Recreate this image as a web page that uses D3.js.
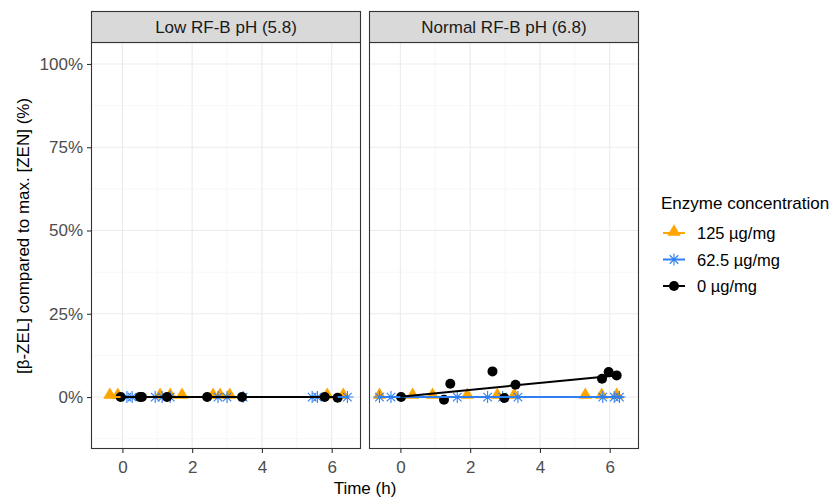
<!DOCTYPE html>
<html>
<head>
<meta charset="utf-8">
<script src="https://cdn.jsdelivr.net/npm/d3@7"></script>
<style>
  body { margin: 0; background: #fff; }
  svg text { font-family: "Liberation Sans", Arial, sans-serif; }
</style>
</head>
<body>
<svg id="chart" width="833" height="497"></svg>
<script>
// facets, groups, observations (time h, % of max ZEN)
var panels = ['Low RF-B pH (5.8)', 'Normal RF-B pH (6.8)'];
var groups = ['125 µg/mg', '62.5 µg/mg', '0 µg/mg'];
var colors = ['#FFA500', '#2F7FF2', '#000000'];
var yTicks = [0, 25, 50, 75, 100];
var xTicks = [0, 2, 4, 6];

// low pH
var lowT125 = [-0.36, -0.13, 1.08, 1.37, 1.71, 2.6, 2.8, 3.08, 5.87, 6.33];
var lowY125 = [0.3, 0.3, 0.3, 0.3, 0.3, 0.3, 0.3, 0.3, 0.3, 0.3];
var lowT625 = [0.13, 0.28, 0.94, 1.14, 1.37, 2.74, 3.0, 3.46, 5.44, 5.59, 6.45];
var lowY625 = [0, 0, 0, 0, 0, 0, 0, 0, 0, 0, 0];
var lowT0 = [-0.05, 0.5, 0.56, 1.28, 2.43, 3.43, 5.8, 6.17];
var lowY0 = [0, 0, 0, 0, 0, 0, 0, -0.2];
// normal pH
var normT125 = [-0.6, 0.35, 0.92, 1.92, 2.78, 3.26, 5.3, 5.77, 6.2];
var normY125 = [0.3, 0.3, 0.3, 0.3, 0.3, 0.3, 0.3, 0.3, 0.3];
var normT625 = [-0.6, -0.27, 1.63, 2.5, 2.93, 3.37, 5.8, 6.13, 6.28];
var normY625 = [0, 0, 0, 0, 0, 0, 0, 0, 0];
var normT0 = [0.02, 1.25, 1.43, 2.64, 2.98, 3.3, 5.78, 5.97, 6.2];
var normY0 = [0, -0.8, 4.0, 7.7, -0.3, 3.7, 5.5, 7.5, 6.5];

// fitted lines (start, end) per panel and group
var lowFitT = [[-0.36, 6.33], [0.13, 6.45], [-0.05, 6.17]];
var lowFitY = [[0, 0], [0, 0], [0, 0]];
var normFitT = [[-0.6, 6.2], [-0.6, 6.4], [0.0, 6.2]];
var normFitY = [[0, 0], [0, 0], [0.1, 6.5]];

var pts = [
  [[lowT125, lowY125], [lowT625, lowY625], [lowT0, lowY0]],
  [[normT125, normY125], [normT625, normY625], [normT0, normY0]]
];
var fits = [[lowFitT, lowFitY], [normFitT, normFitY]];

var svg = d3.select('#chart');
var P = { top: 42, bottom: 449, stripTop: 11, w: 270, lefts: [91, 369] };
var y = d3.scaleLinear().domain([-15.6, 106.6]).range([P.bottom, P.top]);
var FONT = '"Liberation Sans", Arial, sans-serif';

function shape(g, gi, cx, cy, col) {
  if (gi === 0) {
    g.append('path').attr('d', d3.symbol(d3.symbolTriangle, 76)())
      .attr('transform', 'translate(' + cx + ',' + (cy - 1) + ')').attr('fill', col);
  } else if (gi === 1) {
    var r = 6, d = r * 0.7071, p = '';
    p += 'M' + (cx - r) + ',' + cy + 'H' + (cx + r);
    p += 'M' + cx + ',' + (cy - r) + 'V' + (cy + r);
    p += 'M' + (cx - d) + ',' + (cy - d) + 'L' + (cx + d) + ',' + (cy + d);
    p += 'M' + (cx - d) + ',' + (cy + d) + 'L' + (cx + d) + ',' + (cy - d);
    g.append('path').attr('d', p).attr('stroke', col).attr('stroke-width', 1.1).attr('fill', 'none');
  } else {
    g.append('circle').attr('cx', cx).attr('cy', cy).attr('r', 5).attr('fill', col);
  }
}

panels.forEach(function (name, pi) {
  var x0 = P.lefts[pi];
  var x = d3.scaleLinear().domain([-0.9, 6.84]).range([x0, x0 + P.w]);
  var g = svg.append('g');
  g.append('rect').attr('x', x0).attr('y', P.top).attr('width', P.w).attr('height', P.bottom - P.top).attr('fill', '#fff');
  // minor grid
  [1, 3, 5].forEach(function (t) {
    g.append('line').attr('x1', x(t)).attr('x2', x(t)).attr('y1', P.top).attr('y2', P.bottom).attr('stroke', '#f2f2f2').attr('stroke-width', 0.6);
  });
  [-12.5, 12.5, 37.5, 62.5, 87.5].forEach(function (v) {
    g.append('line').attr('x1', x0).attr('x2', x0 + P.w).attr('y1', y(v)).attr('y2', y(v)).attr('stroke', '#f2f2f2').attr('stroke-width', 0.6);
  });
  xTicks.forEach(function (t) {
    g.append('line').attr('x1', x(t)).attr('x2', x(t)).attr('y1', P.top).attr('y2', P.bottom).attr('stroke', '#ebebeb').attr('stroke-width', 1.1);
  });
  yTicks.forEach(function (v) {
    g.append('line').attr('x1', x0).attr('x2', x0 + P.w).attr('y1', y(v)).attr('y2', y(v)).attr('stroke', '#ebebeb').attr('stroke-width', 1.1);
  });

  // points
  var pg = g.append('g');
  pts[pi].forEach(function (s, gi) {
    s[0].forEach(function (t, k) { shape(pg, gi, x(t), y(s[1][k]), colors[gi]); });
  });
  // fitted lines
  var ft = fits[pi];
  groups.forEach(function (_, gi) {
    g.append('line').attr('x1', x(ft[0][gi][0])).attr('x2', x(ft[0][gi][1]))
      .attr('y1', y(ft[1][gi][0])).attr('y2', y(ft[1][gi][1]))
      .attr('stroke', colors[gi]).attr('stroke-width', 2);
  });

  // border
  g.append('rect').attr('x', x0 + 0.5).attr('y', P.top + 0.5).attr('width', P.w - 1).attr('height', P.bottom - P.top - 1)
    .attr('fill', 'none').attr('stroke', '#333').attr('stroke-width', 1.1);
  // strip
  g.append('rect').attr('x', x0 + 0.5).attr('y', P.stripTop + 0.5).attr('width', P.w - 1).attr('height', P.top - P.stripTop)
    .attr('fill', '#d9d9d9').attr('stroke', '#333').attr('stroke-width', 1.1);
  g.append('text').attr('x', x0 + P.w / 2).attr('y', 33).attr('text-anchor', 'middle')
    .attr('font-size', 17).attr('fill', '#1a1a1a').text(name);

  // x axis
  var xa = g.append('g').attr('transform', 'translate(0,' + P.bottom + ')')
    .call(d3.axisBottom(x).tickValues(xTicks).tickSize(4).tickPadding(8).tickFormat(d3.format('d')));
  xa.select('.domain').remove();
  xa.selectAll('line').attr('stroke', '#333').attr('stroke-width', 1.1);
  xa.selectAll('text').attr('font-size', 17).attr('fill', '#4d4d4d').attr('font-family', FONT);
});

// y axis
var ya = svg.append('g').attr('transform', 'translate(' + P.lefts[0] + ',0)')
  .call(d3.axisLeft(y).tickValues(yTicks).tickSize(4).tickPadding(4).tickFormat(function (d) { return d + '%'; }));
ya.select('.domain').remove();
ya.selectAll('line').attr('stroke', '#333').attr('stroke-width', 1.1);
ya.selectAll('text').attr('font-size', 17).attr('fill', '#4d4d4d').attr('font-family', FONT);

svg.append('text').attr('x', (P.lefts[0] + P.lefts[1] + P.w) / 2).attr('y', 494).attr('text-anchor', 'middle')
  .attr('font-size', 17).attr('fill', '#000').text('Time (h)');
svg.append('text').attr('transform', 'translate(29,236) rotate(-90)').attr('text-anchor', 'middle')
  .attr('font-size', 17).attr('fill', '#000').text('[β-ZEL] compared to max. [ZEN] (%)');

// legend
var lg = svg.append('g');
lg.append('text').attr('x', 661).attr('y', 209).attr('font-size', 17).attr('fill', '#000').text('Enzyme concentration');
groups.forEach(function (name, gi) {
  var cy = 233 + gi * 26.5;
  lg.append('line').attr('x1', 663).attr('x2', 685).attr('y1', cy).attr('y2', cy).attr('stroke', colors[gi]).attr('stroke-width', 2);
  shape(lg, gi, 674, cy, colors[gi]);
  lg.append('text').attr('x', 697).attr('y', cy + 6).attr('font-size', 16.5).attr('fill', '#000').text(name);
});
</script>
</body>
</html>
